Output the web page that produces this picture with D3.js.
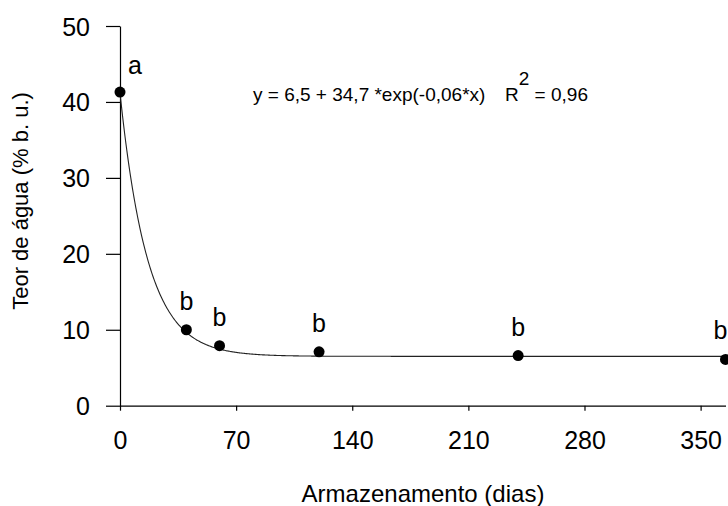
<!DOCTYPE html>
<html>
<head>
<meta charset="utf-8">
<script src="https://cdn.jsdelivr.net/npm/d3@7"></script>
<style>
  html, body { margin: 0; padding: 0; background: #fff; }
  svg text { font-family: "Liberation Sans", Arial, sans-serif; fill: #000; }
</style>
</head>
<body>
<svg id="chart" width="728" height="506"></svg>
<script>
// Storage time (days) and measured water content (% wet basis)
const days = [0, 40, 60, 120, 240, 365];
const water = [41.3, 10.0, 7.9, 7.1, 6.6, 6.1];
const groups = ["a", "b", "b", "b", "b", "b"];

// Exponential decay fit: y = a + b * exp(-k * x)
const fitParams = [6.5, 34.7, 0.06];
const fitR2 = 0.96;

const xTicks = [0, 70, 140, 210, 280, 350];
const yTicks = [0, 10, 20, 30, 40, 50];

const W = 728;
const svg = d3.select("#chart");
const x = d3.scaleLinear().domain([0, 365]).range([120, 725.5]);
const y = d3.scaleLinear().domain([0, 50]).range([405.7, 26]);

const fmt = v => String(v).replace(".", ",");

// Axes
const xAxis = svg.append("g")
  .attr("transform", `translate(0,${y(0)})`)
  .call(d3.axisBottom(x).tickValues(xTicks).tickSize(5).tickSizeOuter(0).tickPadding(14));
const yAxis = svg.append("g")
  .attr("transform", `translate(${x(0)},0)`)
  .call(d3.axisLeft(y).tickValues(yTicks).tickSize(14).tickSizeOuter(0).tickPadding(16));

[xAxis, yAxis].forEach(g => {
  g.selectAll("path, line").attr("stroke", "#000").attr("stroke-width", 1.2);
  g.selectAll("text").attr("font-size", 25).attr("fill", "#000")
    .style("font-family", '"Liberation Sans", Arial, sans-serif');
});
xAxis.selectAll("text").attr("dy", null).attr("y", 43);
yAxis.selectAll("text").attr("dy", "0.36em");

// Fitted curve
const [fa, fb, fk] = fitParams;
const curveX = d3.range(0, 365.5, 0.5);
svg.append("path")
  .datum(curveX)
  .attr("fill", "none")
  .attr("stroke", "#222")
  .attr("stroke-width", 1.1)
  .attr("d", d3.line().x(d => x(d)).y(d => y(fa + fb * Math.exp(-fk * d))));

// Observed points
const pts = days.map((d, i) => ({ d, w: water[i], g: groups[i] }));
svg.append("g").selectAll("circle")
  .data(pts).join("circle")
  .attr("cx", p => x(p.d))
  .attr("cy", p => y(p.w))
  .attr("r", 5.5)
  .attr("fill", "#000");

// Group letters above the points (kept inside the right edge)
svg.append("g").selectAll("text")
  .data(pts).join("text")
  .attr("x", (p, i) => i === 0 ? x(p.d) + 8 : Math.min(x(p.d), W - 7.5))
  .attr("y", (p, i) => y(p.w) - (i === 0 ? 18 : 20))
  .attr("text-anchor", (p, i) => i === 0 ? "start" : "middle")
  .attr("font-size", 25)
  .text(p => p.g);

// Equation and coefficient of determination
svg.append("text")
  .attr("x", 253).attr("y", 101)
  .attr("font-size", 19)
  .text(`y = ${fmt(fa)} + ${fmt(fb)} *exp(-${fmt(fk)}*x)`);
const r2 = svg.append("text")
  .attr("x", 505).attr("y", 101)
  .attr("font-size", 19);
r2.append("tspan").text("R");
r2.append("tspan").attr("dy", -16).text("2");
r2.append("tspan").attr("dy", 16).text(` = ${fmt(fitR2)}`);

// Axis titles
svg.append("text")
  .attr("x", 423).attr("y", 502)
  .attr("text-anchor", "middle")
  .attr("font-size", 24)
  .text("Armazenamento (dias)");
svg.append("text")
  .attr("transform", "translate(28,201) rotate(-90)")
  .attr("text-anchor", "middle")
  .attr("font-size", 22)
  .text("Teor de água (% b. u.)");
</script>
</body>
</html>
